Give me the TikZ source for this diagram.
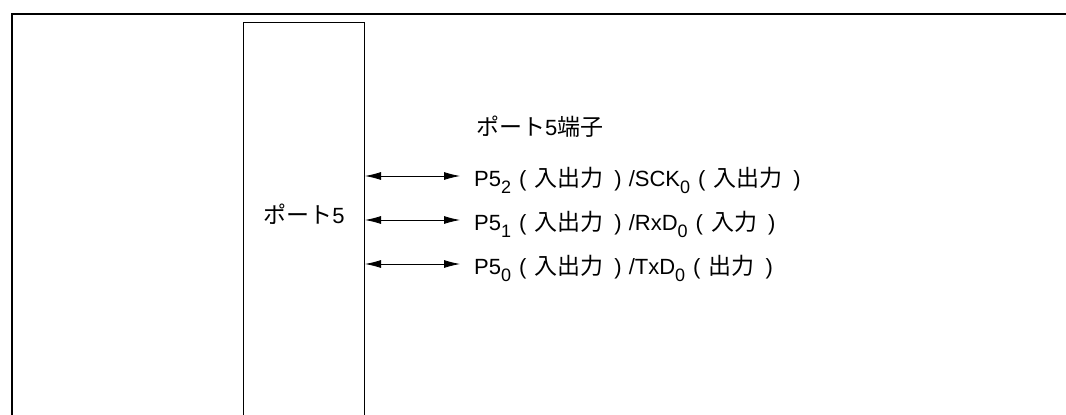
\documentclass[tikz,border=0pt]{standalone}
\usepackage{fontspec}
\setmainfont{Liberation Sans}
\newfontfamily\jp{Noto Sans CJK JP}
\usetikzlibrary{arrows.meta}
\newcommand{\sbs}[1]{\raisebox{-7pt}{\fontsize{18}{18}\selectfont #1}}
\newcommand{\jt}[1]{{\jp\fontsize{23}{26}\selectfont #1}}
\newcommand{\pj}[1]{\hspace{8pt}(\hspace{8pt}\jt{#1}\hspace{11pt})}
\begin{document}
\begin{tikzpicture}[x=1pt,y=-1pt,
  frame/.style={line width=1.1pt},
  portbox/.style={line width=1pt},
  bidir/.style={line width=0.8pt,{Latex[length=16pt,width=8pt]}-{Latex[length=16pt,width=8pt]}},
  lbl/.style={anchor=base west,inner sep=0pt,font=\fontsize{22}{26}\selectfont}]
\useasboundingbox (0,0) rectangle (1066,415);
\draw[frame] (12,415) -- (12,14) -- (1066,14);
\coordinate (bl) at (243.5,415);
\coordinate (br) at (364,415);
\draw[portbox] (bl) |- (304,22.5) -| (br);
\node[lbl,anchor=base] (plabel) at (304,223) {\jt{ポート}5};
\node[lbl] (title) at (476,135) {\jt{ポート}5\jt{端子}};
\node[lbl] (r2) at (474,186) {P5\sbs{2}\pj{入出力}\hspace{7pt}/SCK\sbs{0}\pj{入出力}};
\node[lbl] (r1) at (474,230) {P5\sbs{1}\pj{入出力}\hspace{7pt}/RxD\sbs{0}\pj{入力}};
\node[lbl] (r0) at (474,274) {P5\sbs{0}\pj{入出力}\hspace{7pt}/TxD\sbs{0}\pj{出力}};
\coordinate (a2l) at (365,176); \coordinate (a2r) at (460,176);
\coordinate (a1l) at (365,220); \coordinate (a1r) at (460,220);
\coordinate (a0l) at (365,264); \coordinate (a0r) at (460,264);
\draw[bidir] (a2l) -- (a2r);
\draw[bidir] (a1l) -- (a1r);
\draw[bidir] (a0l) -- (a0r);
\end{tikzpicture}
\end{document}
